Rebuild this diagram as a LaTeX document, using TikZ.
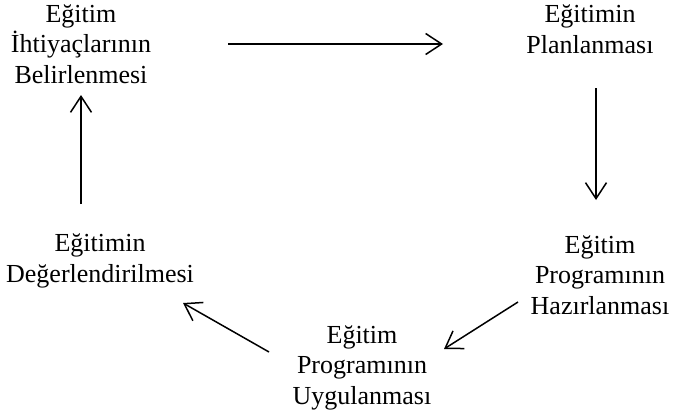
\documentclass[tikz,border=0pt]{standalone}
\usepackage{fontspec}
\setmainfont{Liberation Serif}
\usetikzlibrary{arrows.meta}
\begin{document}
\begin{tikzpicture}[x=1pt,y=-1pt,
  lbl/.style={align=center,inner sep=0pt,anchor=base,font=\fontsize{26}{30.5}\selectfont},
  arr/.style={line width=1.5pt,-{Straight Barb[length=16pt,width=21pt,line width=1.5pt]}}]
\useasboundingbox (0,0) rectangle (674,418);
\node[lbl] (A) at (81,83) {Eğitim\\İhtiyaçlarının\\Belirlenmesi};
\node[lbl] (B) at (590,53) {Eğitimin\\Planlanması};
\node[lbl] (C) at (600,314) {Eğitim\\Programının\\Hazırlanması};
\node[lbl] (D) at (362,404) {Eğitim\\Programının\\Uygulanması};
\node[lbl] (E) at (100,282) {Eğitimin\\Değerlendirilmesi};
\coordinate (a1) at (228,44);
\coordinate (b0) at (443,44);
\coordinate (b1) at (596,88);
\coordinate (c0) at (596,200);
\coordinate (c1) at (518,302);
\coordinate (d0) at (444,349);
\coordinate (d1) at (269,352);
\coordinate (e0) at (183,303);
\coordinate (e1) at (81,204);
\coordinate (a0) at (81,95);
\draw[arr] (a1) -- (b0);
\draw[arr] (b1) -- (c0);
\draw[arr] (c1) -- (d0);
\draw[arr] (d1) -- (e0);
\draw[arr] (e1) -- (a0);
\end{tikzpicture}
\end{document}
